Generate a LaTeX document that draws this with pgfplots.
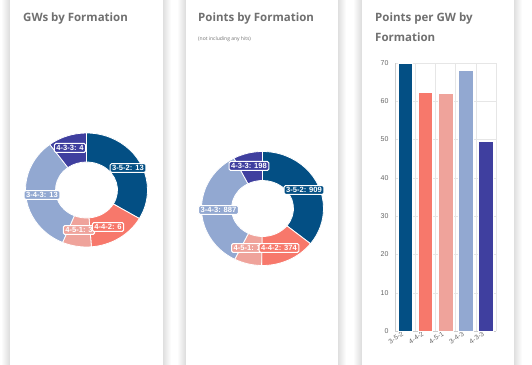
\documentclass[border=0pt]{standalone}
\usepackage{pgfplots}
\pgfplotsset{compat=1.18}
\usepackage{fontspec}
\setmainfont{Open Sans}
\newfontfamily\hcfont{Liberation Sans}
\definecolor{cA}{HTML}{034F84}% 3-5-2
\definecolor{cB}{HTML}{F7786B}% 4-4-2
\definecolor{cC}{HTML}{EFA39B}% 4-5-1
\definecolor{cD}{HTML}{92A8D1}% 3-4-3
\definecolor{cE}{HTML}{3F3F9F}% 4-3-3
\definecolor{titlegrey}{HTML}{707070}
\definecolor{tickgrey}{HTML}{666666}
\definecolor{gridgrey}{HTML}{E6E6E6}

% #1 cumulative value before, #2 value, #3 total, #4 colour
\newcommand{\donutsector}[4]{%
  \fill[#4,draw=white,line width=0.8pt]
    ([shift={({90-360*((#1)/(#3))}:61pt and 57pt)}]axis cs:0,0)
    arc[start angle={90-360*((#1)/(#3))}, end angle={90-360*((#1+#2)/(#3))}, x radius=61pt, y radius=57pt]
    -- ([shift={({90-360*((#1+#2)/(#3))}:31pt and 28pt)}]axis cs:0,0)
    arc[start angle={90-360*((#1+#2)/(#3))}, end angle={90-360*((#1)/(#3))}, x radius=31pt, y radius=28pt]
    -- cycle;}
% #1 dx, #2 dy, #3 colour, #4 text
\newcommand{\dlabel}[4]{%
  \node[fill=#3, draw=white, line width=1pt, rounded corners=1.5pt, text=white,
        font=\hcfont\fontsize{7.6}{8}\selectfont\bfseries, inner xsep=2pt, inner ysep=1.8pt]
        at (axis cs:#1,#2) {#4};}

\begin{document}
\begin{tikzpicture}[x=1pt,y=1pt]
\path[use as bounding box] (0,0) rectangle (532,364);
\fill[white] (0,0) rectangle (532,364);
\foreach \xa/\xb in {10/162.5,186/338,362/514}{
  \foreach \i in {1,...,8}{\fill[black,opacity=0.016] (\xa-\i,-20) rectangle (\xb+\i,390);}
  \fill[white] (\xa,-20) rectangle (\xb,390);
}
% titles
\node[anchor=base west, inner sep=0pt, font=\fontsize{11.5}{14}\selectfont\bfseries, text=titlegrey] at (23,342.5) {GWs by Formation};
\node[anchor=base west, inner sep=0pt, font=\fontsize{11.5}{14}\selectfont\bfseries, text=titlegrey] at (198,342.5) {Points by Formation};
\node[anchor=base west, inner sep=0pt, font=\fontsize{5}{6}\selectfont, text=titlegrey] at (198,323) {(not including any hits)};
\node[anchor=base west, inner sep=0pt, font=\fontsize{11.5}{14}\selectfont\bfseries, text=titlegrey] at (375,342.5) {Points per GW by};
\node[anchor=base west, inner sep=0pt, font=\fontsize{11.5}{14}\selectfont\bfseries, text=titlegrey] at (375,322.5) {Formation};

% donut 1: GWs
\begin{axis}[at={(86.5pt,174pt)}, anchor=center, hide axis, x=1pt, y=1pt,
  xmin=-70, xmax=70, ymin=-70, ymax=70, clip=false]
\donutsector{0}{13}{39}{cA}
\donutsector{13}{6}{39}{cB}
\donutsector{19}{3}{39}{cC}
\donutsector{22}{13}{39}{cD}
\donutsector{35}{4}{39}{cE}
\dlabel{41.5}{22}{cA}{3-5-2: 13}
\dlabel{-7.5}{-40}{cC}{4-5-1: 3}
\dlabel{21.5}{-37}{cB}{4-4-2: 6}
\dlabel{-44.5}{-5}{cD}{3-4-3: 13}
\dlabel{-16.5}{42}{cE}{4-3-3: 4}
\end{axis}

% donut 2: Points
\begin{axis}[at={(262.5pt,155.5pt)}, anchor=center, hide axis, x=1pt, y=1pt,
  xmin=-70, xmax=70, ymin=-70, ymax=70, clip=false]
\donutsector{0}{909}{2554}{cA}
\donutsector{909}{374}{2554}{cB}
\donutsector{1283}{186}{2554}{cC}
\donutsector{1469}{887}{2554}{cD}
\donutsector{2356}{198}{2554}{cE}
\dlabel{41.5}{18.5}{cA}{3-5-2: 909}
\dlabel{-11}{-39.5}{cC}{4-5-1: 186}
\dlabel{16.5}{-39.5}{cB}{4-4-2: 374}
\dlabel{-44}{-1.5}{cD}{3-4-3: 887}
\dlabel{-13.5}{42.5}{cE}{4-3-3: 198}
\end{axis}

% bar chart: points per GW
\begin{axis}[at={(395pt,33pt)}, anchor=south west, scale only axis,
  width=101pt, height=268pt,
  xmin=-0.5, xmax=4.5, ymin=0, ymax=70,
  xtick={0,1,2,3,4}, xticklabels={3-5-2,4-4-2,4-5-1,3-4-3,4-3-3},
  minor xtick={-0.5,0.5,1.5,2.5,3.5,4.5},
  ytick={0,10,...,70},
  ymajorgrids, xminorgrids,
  major grid style={gridgrey}, minor grid style={gridgrey},
  axis x line*=bottom, axis y line*=left,
  axis line style={draw=gray!40,-},
  tick style={draw=none},
  yticklabel style={font=\hcfont\fontsize{7}{8}\selectfont, text=tickgrey, xshift=-3pt},
  xticklabel style={font=\hcfont\fontsize{6.8}{8}\selectfont, text=tickgrey, rotate=32, anchor=east, yshift=-1pt},
  /pgf/number format/assume math mode=true,
]
\addplot[ybar, bar width=14.5pt, fill=cA, draw=white, line width=0.4pt] coordinates {(0,69.92)};
\addplot[ybar, bar width=14.5pt, fill=cB, draw=white, line width=0.4pt] coordinates {(1,62.33)};
\addplot[ybar, bar width=14.5pt, fill=cC, draw=white, line width=0.4pt] coordinates {(2,62.00)};
\addplot[ybar, bar width=14.5pt, fill=cD, draw=white, line width=0.4pt] coordinates {(3,68.23)};
\addplot[ybar, bar width=14.5pt, fill=cE, draw=white, line width=0.4pt] coordinates {(4,49.50)};
\end{axis}
\end{tikzpicture}
\end{document}
